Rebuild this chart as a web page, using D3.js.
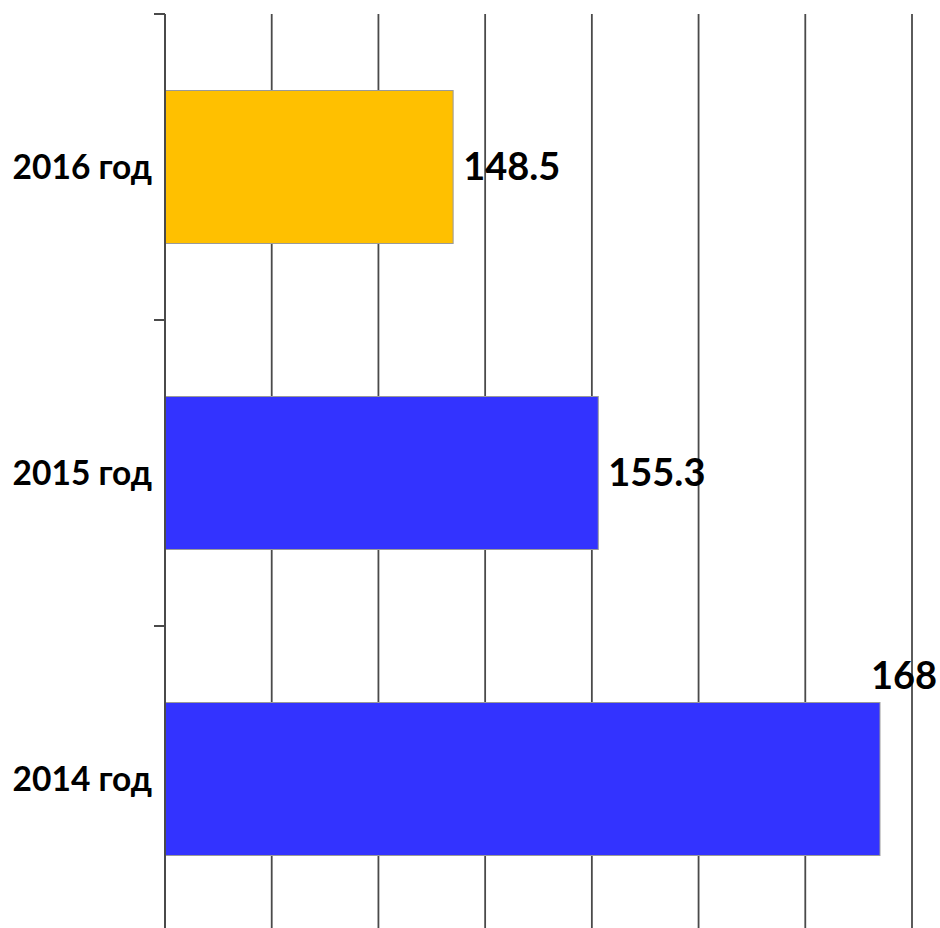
<!DOCTYPE html>
<html>
<head>
<meta charset="utf-8">
<script src="https://cdn.jsdelivr.net/npm/d3@7"></script>
<style>
  html, body { margin: 0; padding: 0; background: #fff; }
  svg { display: block; }
</style>
</head>
<body>
<svg id="chart" width="940" height="928"></svg>
<script>
// Data
const categories = ["2016 год", "2015 год", "2014 год"];
const values = [148.5, 155.3, 168.5];
const valueLabels = ["148.5", "155.3", "168"];
const barColors = ["#FFC000", "#3333FF", "#3333FF"];
const xDomain = [135, 170];
const xTickStep = 5;

(function () {
const svg = d3.select("#chart");
const W = 940;
const mLeft = 165, mRight = 912, mTop = 14, mBottom = 932;

const x = d3.scaleLinear().domain(xDomain).range([mLeft, mRight]);
const y = d3.scaleBand().domain(categories).range([mTop, mBottom])
  .paddingInner(0.5).paddingOuter(0.25);

const ticks = d3.range(xDomain[0], xDomain[1] + 0.001, xTickStep);

// vertical gridlines
svg.append("g").selectAll("line").data(ticks.slice(1)).join("line")
  .attr("x1", d => x(d)).attr("x2", d => x(d))
  .attr("y1", mTop).attr("y2", mBottom)
  .attr("stroke", "#4a4a4a").attr("stroke-width", 1.8);

// bars
svg.append("g").selectAll("rect").data(categories).join("rect")
  .attr("x", x(xDomain[0]))
  .attr("y", d => y(d))
  .attr("width", (d, i) => x(values[i]) - x(xDomain[0]))
  .attr("height", y.bandwidth())
  .attr("fill", (d, i) => barColors[i])
  .attr("stroke", "#9a9a9a").attr("stroke-width", 1);

// left axis with outward ticks at band boundaries
const yAxis = svg.append("g");
yAxis.append("line")
  .attr("x1", mLeft).attr("x2", mLeft).attr("y1", mTop).attr("y2", mBottom)
  .attr("stroke", "#4a4a4a").attr("stroke-width", 2);
const boundaries = categories.map(c => y(c) - y.step() * y.paddingInner() / 2);
boundaries.push(mBottom);
yAxis.selectAll("line.tick").data(boundaries).join("line")
  .attr("class", "tick")
  .attr("x1", mLeft - 11).attr("x2", mLeft)
  .attr("y1", d => d).attr("y2", d => d)
  .attr("stroke", "#4a4a4a").attr("stroke-width", 2);

// category labels
svg.append("g").selectAll("text").data(categories).join("text")
  .attr("x", 152)
  .attr("y", d => y(d) + y.bandwidth() / 2)
  .attr("dy", "0.35em")
  .attr("text-anchor", "end")
  .attr("font-family", "Lato, 'Open Sans', sans-serif")
  .attr("font-weight", "bold")
  .attr("font-size", 33.5)
  .attr("fill", "#000")
  .text(d => d);

// value labels
const vl = svg.append("g").selectAll("text").data(categories).join("text")
  .attr("font-family", "Lato, 'Open Sans', sans-serif")
  .attr("font-weight", "bold")
  .attr("font-size", 38)
  .attr("fill", "#000")
  .text((d, i) => valueLabels[i]);

vl.each(function(d, i) {
  const t = d3.select(this);
  const w = this.getComputedTextLength();
  let lx = x(values[i]) + 10;
  let ly = y(d) + y.bandwidth() / 2;
  if (lx + w > W - 3) {
    lx = W - 3 - w;
    ly = y(d) - 27;
  }
  t.attr("x", lx).attr("y", ly).attr("dy", "0.35em");
});
})();
</script>
</body>
</html>
